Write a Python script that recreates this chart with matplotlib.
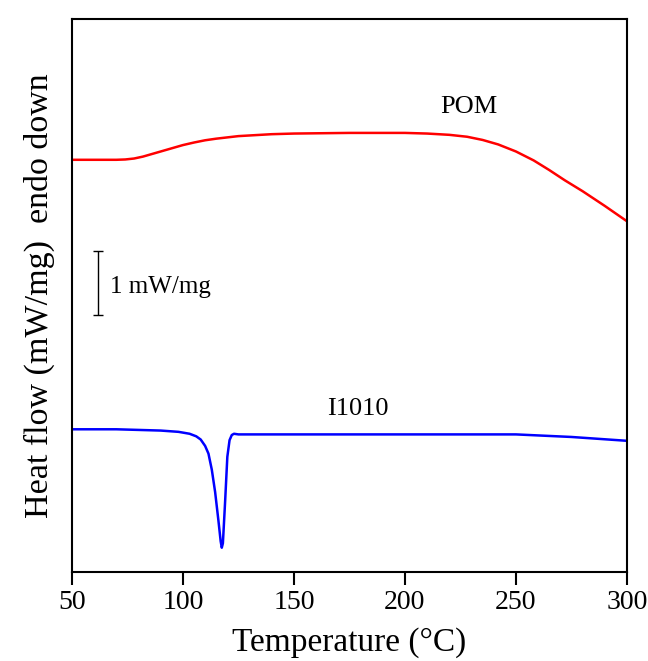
import numpy as np
import matplotlib
matplotlib.use('Agg')
import matplotlib.pyplot as plt

plt.rcParams['font.family'] = ['Liberation Serif', 'DejaVu Serif']

# POM curve (temperature in C, heat flow in mW/mg, arbitrary offset)
pom_t = [50, 60, 70, 74, 78, 82, 86, 90, 95, 100, 105, 110, 115, 120, 125, 130, 140, 150,
         175, 200, 210, 220, 228, 235, 242, 250, 258, 265, 272, 280, 290, 300]
pom_q = [6.44, 6.44, 6.44, 6.445, 6.46, 6.49, 6.53, 6.57, 6.62, 6.67, 6.71, 6.745, 6.77,
         6.79, 6.81, 6.82, 6.84, 6.85, 6.86, 6.86, 6.85, 6.83, 6.80, 6.75, 6.68, 6.57,
         6.43, 6.28, 6.12, 5.95, 5.72, 5.48]

# I1010 curve
i10_t = [50, 70, 90, 98, 103, 106, 108, 110, 111.5, 113, 114.5, 116, 117, 117.5,
         118, 119, 120, 121, 122, 123, 125, 150, 200, 250, 275, 300]
i10_q = [2.23, 2.23, 2.21, 2.19, 2.16, 2.12, 2.07, 1.97, 1.85, 1.60, 1.25, 0.80, 0.48, 0.38,
         0.45, 1.10, 1.80, 2.06, 2.14, 2.16, 2.15, 2.15, 2.15, 2.15, 2.11, 2.05]

fig = plt.figure(figsize=(6.48, 6.61), dpi=100)
ax = fig.add_axes([0.111, 0.1346, 0.8565, 0.8367])

ax.plot(pom_t, pom_q, color='red', lw=1.8)
ax.plot(i10_t, i10_q, color='blue', lw=1.8)

ax.text(229, 7.27, 'POM', fontsize=19, ha='center', va='center')
ax.text(179, 2.55, 'I1010', fontsize=19, ha='center', va='center')

# 1 mW/mg scale bar
ax.errorbar([61.7], [4.52], yerr=[0.5], color='black', lw=1.0, capsize=3.5, capthick=1.0)
ax.text(67, 4.45, '1 mW/mg', fontsize=18, ha='left', va='center')

ax.set_xlim(50, 300)
ax.set_ylim(0, 8.64)
ax.set_xticks([50, 100, 150, 200, 250, 300])
ax.set_yticks([])
ax.tick_params(axis='x', direction='out', length=9, width=1.5, labelsize=20, pad=4)
for s in ax.spines.values():
    s.set_linewidth(1.5)

ax.set_xlabel('Temperature (°C)', fontsize=24, labelpad=9)
ax.set_ylabel('Heat flow (mW/mg)  endo down', fontsize=24.5, labelpad=12)

fig.savefig('out.png', dpi=100)
